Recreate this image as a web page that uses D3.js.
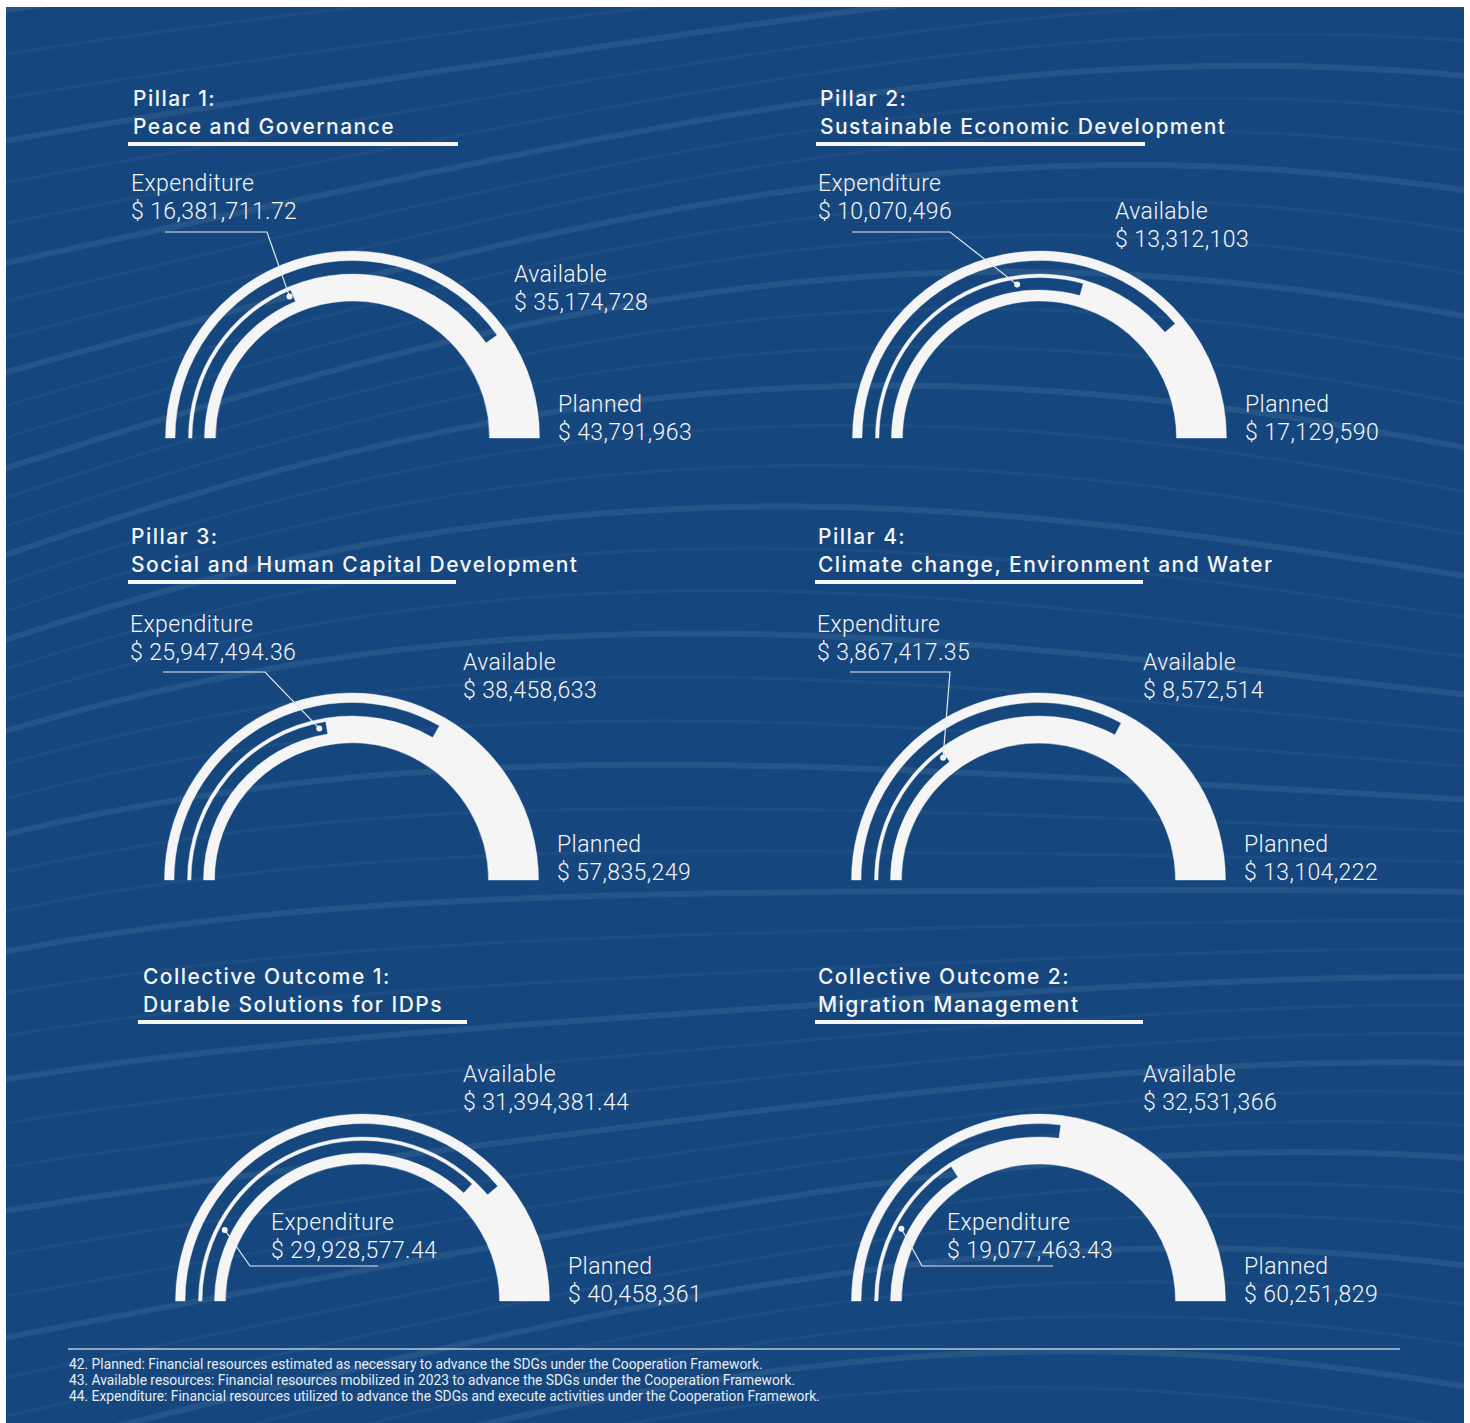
<!DOCTYPE html>
<html><head><meta charset="utf-8">
<script src="https://cdn.jsdelivr.net/npm/d3@7"></script>
<style>
html,body{margin:0;padding:0;background:#fff;}
svg{display:block;}
</style></head><body>
<svg id="chart" width="1470" height="1423"></svg>
<script>
// ---------- data ----------
const titlesLine1 = ["Pillar 1:", "Pillar 2:", "Pillar 3:", "Pillar 4:", "Collective Outcome 1:", "Collective Outcome 2:"];
const titlesLine2 = ["Peace and Governance", "Sustainable Economic Development", "Social and Human Capital Development", "Climate change, Environment and Water", "Durable Solutions for IDPs", "Migration Management"];
const plannedValues = [43791963, 17129590, 57835249, 13104222, 40458361, 60251829];
const availableValues = [35174728, 13312103, 38458633, 8572514, 31394381.44, 32531366];
const expenditureValues = [16381711.72, 10070496, 25947494.36, 3867417.35, 29928577.44, 19077463.43];
const seriesLabels = {planned: "Planned", available: "Available", expenditure: "Expenditure"};
const footnotes = [
  "42. Planned: Financial resources estimated as necessary to advance the SDGs under the Cooperation Framework.",
  "43. Available resources: Financial resources mobilized in 2023 to advance the SDGs under the Cooperation Framework.",
  "44. Expenditure: Financial resources utilized to advance the SDGs and execute activities under the Cooperation Framework."
];

// ---------- layout ----------
const layout = [
  {cx:352.5, cy:438, tx:133, ty:106, ul:[128,458,144], exp:[131,191], lead:[165,267,232], inner:false, dotDeg:66, avail:[514,282], plan:[558,412]},
  {cx:1039.5, cy:438, tx:820, ty:106, ul:[816,1145,144], exp:[818,191], lead:[852,950,232], inner:false, dotDeg:81.7, avail:[1115,219], plan:[1245,412]},
  {cx:351.5, cy:880, tx:131, ty:544, ul:[128,456,582], exp:[130,632], lead:[163,265,672], inner:false, dotDeg:78, avail:[463,670], plan:[557,852]},
  {cx:1038.5, cy:880, tx:818, ty:544, ul:[815,1143,582], exp:[817,632], lead:[850,950,672], inner:false, dotDeg:52, avail:[1143,670], plan:[1244,852]},
  {cx:362.5, cy:1301, tx:143, ty:984, ul:[138,467,1022], exp:[271,1230], lead:[250,378,1266], inner:true, dotDeg:27.3, avail:[463,1082], plan:[568,1274]},
  {cx:1038.5, cy:1301, tx:818, ty:984, ul:[815,1143,1022], exp:[947,1230], lead:[922,1053,1266], inner:true, dotDeg:27.8, avail:[1143,1082], plan:[1244,1274]}
];
const BG = "#15477e";
const FG = "#f5f5f5";
const rings = {outer:[177.5,187], gapA:[164,177.5], thin:[160.5,164], gapB:[148,160.5], inner:[137,148]};
const dotR = 155;

const svg = d3.select("#chart");
svg.append("rect").attr("x",6).attr("y",7).attr("width",1458).attr("height",1416).attr("fill",BG);

// subtle background waves (decoration)
const defs = svg.append("defs");
defs.append("clipPath").attr("id","bgclip").append("rect").attr("x",6).attr("y",7).attr("width",1458).attr("height",1416);
const waves = svg.append("g").attr("clip-path","url(#bgclip)");
const waveLine = d3.line().curve(d3.curveBasis);
for (let k = -10; k < 50; k++) {
  const pts = [];
  for (let x = -200; x <= 1700; x += 100) {
    pts.push([x, k*36 + 0.00012*(x-300)*(x-300) - 0.18*x + 40*Math.sin(x/420 + k*0.2)]);
  }
  waves.append("path").attr("d", waveLine(pts)).attr("fill","none")
    .attr("stroke","#ffffff").attr("stroke-opacity", k%3===0 ? 0.07 : 0.035).attr("stroke-width", k%3===0 ? 6 : 3);
}

const fmt = v => "$ " + (Number.isInteger(v) ? d3.format(",")(v) : d3.format(",.2f")(v));
const arc = d3.arc();

layout.forEach((L, i) => {
  const g = svg.append("g");
  const angle = d3.scaleLinear().domain([0, plannedValues[i]]).range([-Math.PI/2, Math.PI/2]);
  const gauge = g.append("g").attr("transform", `translate(${L.cx},${L.cy})`);
  const a0 = angle(0), aA = angle(availableValues[i]), aE = angle(expenditureValues[i]), aP = angle(plannedValues[i]);
  const pieces = [
    {r: [rings.outer[0], rings.outer[1]], a0: a0, a1: aA},          // planned outer ring up to available
    {r: [rings.inner[0], rings.outer[1]], a0: aA, a1: aP},          // solid band beyond available
    {r: [rings.inner[0], rings.thin[1]], a0: aE, a1: aA},           // available: solid inner part beyond expenditure
    {r: [rings.thin[0], rings.thin[1]], a0: a0, a1: aE},            // expenditure thin line
    {r: [rings.inner[0], rings.inner[1]], a0: a0, a1: aE}           // inner ring
  ].filter(d => d.a1 > d.a0);
  const dAll = pieces.map(d => arc({innerRadius:d.r[0], outerRadius:d.r[1], startAngle:d.a0, endAngle:d.a1})).join("");
  gauge.append("path").attr("d", dAll).attr("fill", FG).attr("stroke", FG).attr("stroke-width", 0.4);

  // title
  const title = g.append("text").attr("x", L.tx).attr("y", L.ty)
    .attr("font-family","Inter, 'Noto Sans', sans-serif").attr("font-weight",500)
    .attr("font-size",21).attr("letter-spacing","1.45px").attr("fill",FG);
  title.append("tspan").attr("x",L.tx).attr("dy",0).text(titlesLine1[i]);
  title.append("tspan").attr("x",L.tx).attr("dy",28).text(titlesLine2[i]);
  g.append("rect").attr("x",L.ul[0]).attr("y",L.ul[2]-2).attr("width",L.ul[1]-L.ul[0]).attr("height",4).attr("fill",FG);

  // value labels
  const lab = (x, y, name, val) => {
    const t = g.append("text").attr("x",x).attr("y",y)
      .attr("font-family","Roboto, sans-serif").attr("font-weight",300)
      .attr("font-size",23).attr("letter-spacing","0.4px").attr("fill",FG);
    t.append("tspan").attr("x",x).text(name);
    t.append("tspan").attr("x",x).attr("dy",28).text(fmt(val));
  };
  lab(L.exp[0], L.exp[1], seriesLabels.expenditure, expenditureValues[i]);
  lab(L.avail[0], L.avail[1], seriesLabels.available, availableValues[i]);
  lab(L.plan[0], L.plan[1], seriesLabels.planned, plannedValues[i]);

  // leader + dot
  const rad = L.dotDeg * Math.PI/180;
  const dot = [L.cx - dotR*Math.cos(rad), L.cy - dotR*Math.sin(rad)];
  const pts = L.inner
    ? [dot, [L.lead[0], L.lead[2]], [L.lead[1], L.lead[2]]]
    : [[L.lead[0], L.lead[2]], [L.lead[1], L.lead[2]], dot];
  g.append("path").attr("d", d3.line()(pts)).attr("fill","none").attr("stroke","#e6e9ee").attr("stroke-width",1.2);
  g.append("circle").attr("cx",dot[0]).attr("cy",dot[1]).attr("r",3).attr("fill",FG);
});

// footnotes
svg.append("line").attr("x1",68).attr("x2",1400).attr("y1",1349).attr("y2",1349)
  .attr("stroke","#ffffff").attr("stroke-opacity",0.7).attr("stroke-width",1.5);
svg.selectAll("text.fn").data(footnotes).join("text").attr("class","fn")
  .attr("x",69).attr("y",(d,i)=>1369+i*16)
  .attr("font-family","Roboto, sans-serif").attr("font-size",13.8).attr("fill","#e8edf4")
  .text(d=>d);
</script>
</body></html>
